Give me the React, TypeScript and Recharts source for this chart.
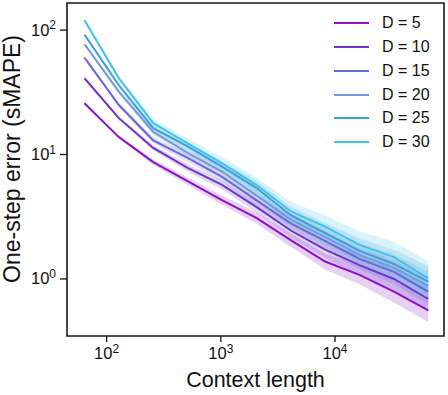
import { ComposedChart, Line, Area, XAxis, YAxis, Legend, ReferenceArea } from 'recharts'

const contextLengths = [64, 128, 256, 512, 1024, 2048, 4096, 8192, 16384, 32768, 65536]

const errD5 = [25.8, 13.8, 8.7, 6.1, 4.3, 3.1, 2.05, 1.38, 1.08, 0.79, 0.56]
const errD10 = [41, 19.6, 11.3, 7.8, 5.7, 3.8, 2.45, 1.72, 1.29, 1.0, 0.69]
const errD15 = [60, 25, 13.0, 9.4, 6.6, 4.3, 2.8, 2.02, 1.45, 1.14, 0.79]
const errD20 = [77, 32, 15.2, 10.3, 7.3, 4.7, 3.0, 2.17, 1.56, 1.23, 0.88]
const errD25 = [92, 36, 16.3, 11.6, 8.0, 5.4, 3.25, 2.34, 1.68, 1.32, 0.95]
const errD30 = [120, 41, 17.9, 12.3, 8.5, 5.7, 3.5, 2.63, 1.88, 1.5, 1.01]

// multiplicative half-width of the shaded band around each curve
const spreadD5 = [1.02, 1.03, 1.05, 1.07, 1.09, 1.11, 1.13, 1.16, 1.19, 1.22, 1.24]
const spreadD10 = [1.02, 1.03, 1.05, 1.07, 1.09, 1.11, 1.14, 1.17, 1.2, 1.23, 1.26]
const spreadD15 = [1.02, 1.04, 1.06, 1.08, 1.1, 1.12, 1.15, 1.18, 1.22, 1.25, 1.28]
const spreadD20 = [1.02, 1.04, 1.06, 1.08, 1.1, 1.13, 1.16, 1.2, 1.24, 1.28, 1.31]
const spreadD25 = [1.02, 1.04, 1.07, 1.09, 1.11, 1.14, 1.17, 1.21, 1.26, 1.3, 1.34]
const spreadD30 = [1.03, 1.05, 1.08, 1.1, 1.12, 1.15, 1.19, 1.23, 1.28, 1.33, 1.37]

const seriesNames = ['D = 5', 'D = 10', 'D = 15', 'D = 20', 'D = 25', 'D = 30']
const seriesColors = ['#8B12C8', '#6F35CC', '#6A67D6', '#6E9BE0', '#409ED8', '#40C4E8']

const xTicks = [100, 1000, 10000]
const yTicks = [1, 10, 100]

const FONT = '"Liberation Sans", Arial, Helvetica, sans-serif'

const series = [
  { key: 'd5', values: errD5, spread: spreadD5 },
  { key: 'd10', values: errD10, spread: spreadD10 },
  { key: 'd15', values: errD15, spread: spreadD15 },
  { key: 'd20', values: errD20, spread: spreadD20 },
  { key: 'd25', values: errD25, spread: spreadD25 },
  { key: 'd30', values: errD30, spread: spreadD30 },
].map((s, i) => ({ ...s, name: seriesNames[i], color: seriesColors[i] }))

const data = contextLengths.map((x, i) => {
  const row: Record<string, number | number[]> = { x }
  series.forEach((s) => {
    row[s.key] = s.values[i]
    row[s.key + 'Band'] = [s.values[i] / s.spread[i], s.values[i] * s.spread[i]]
  })
  return row
})

function PowTick(props: any) {
  const { x, y, payload, side } = props
  const exp = Math.round(Math.log10(payload.value))
  const isX = side === 'x'
  return (
    <text
      x={x}
      y={y}
      dy={isX ? 17 : 5.5}
      textAnchor={isX ? 'middle' : 'end'}
      fontFamily={FONT}
      fontSize={16.5}
      fill="#111"
    >
      10<tspan dy={-6.5} fontSize={12}>{exp}</tspan>
    </text>
  )
}

function LegendBox() {
  return (
    <div style={{ fontFamily: FONT, fontSize: 16, color: '#111' }}>
      {series.map((s) => (
        <div key={s.key} style={{ height: 23.8, display: 'flex', alignItems: 'center' }}>
          <svg width={35} height={4} style={{ display: 'block' }}>
            <line x1={0} y1={2} x2={35} y2={2} stroke={s.color} strokeWidth={2} />
          </svg>
          <span style={{ marginLeft: 13, lineHeight: '16px' }}>{s.name}</span>
        </div>
      ))}
    </div>
  )
}

export default function App() {
  return (
    <div style={{ position: 'absolute', left: 0, top: 0, width: 448, height: 395, background: '#fff' }}>
      <ComposedChart width={448} height={395} data={data} margin={{ top: 3, right: 4, bottom: 0, left: 0 }}>
        <XAxis
          dataKey="x"
          type="number"
          scale="log"
          domain={[45, 90000]}
          allowDataOverflow
          ticks={xTicks}
          height={59}
          axisLine={false}
          tickSize={6}
          tickMargin={0}
          tickLine={{ stroke: '#111', strokeWidth: 1.3 }}
          tick={<PowTick side="x" />}
          label={{
            content: () => (
              <text x={255.5} y={387} textAnchor="middle" fontFamily={FONT} fontSize={21.5} fill="#111">
                Context length
              </text>
            ),
          }}
        />
        <YAxis
          type="number"
          scale="log"
          domain={[0.348, 165]}
          allowDataOverflow
          ticks={yTicks}
          width={67}
          axisLine={false}
          tickSize={7}
          tickMargin={4}
          tickLine={{ stroke: '#111', strokeWidth: 1.3 }}
          tick={<PowTick side="y" />}
          label={{
            content: () => (
              <text
                transform="translate(20,159) rotate(-90)"
                textAnchor="middle"
                fontFamily={FONT}
                fontSize={23}
                fill="#111"
              >
                One-step error (sMAPE)
              </text>
            ),
          }}
        />
        {series.map((s) => (
          <Area
            key={s.key + 'Band'}
            dataKey={s.key + 'Band'}
            type="linear"
            stroke="none"
            fill={s.color}
            fillOpacity={0.2}
            isAnimationActive={false}
            activeDot={false}
            legendType="none"
          />
        ))}
        {series.map((s) => (
          <Line
            key={s.key}
            dataKey={s.key}
            name={s.name}
            type="linear"
            stroke={s.color}
            strokeWidth={2}
            dot={false}
            activeDot={false}
            isAnimationActive={false}
          />
        ))}
        <ReferenceArea
          x1={45}
          x2={90000}
          y1={0.348}
          y2={165}
          fill="none"
          stroke="#1a1a1a"
          strokeWidth={1.6}
          ifOverflow="visible"
        />
        <Legend
          layout="vertical"
          align="center"
          verticalAlign="middle"
          content={<LegendBox />}
          wrapperStyle={{ position: 'absolute', left: 334, top: 11.4, width: 110, height: 143 }}
        />
      </ComposedChart>
    </div>
  )
}
